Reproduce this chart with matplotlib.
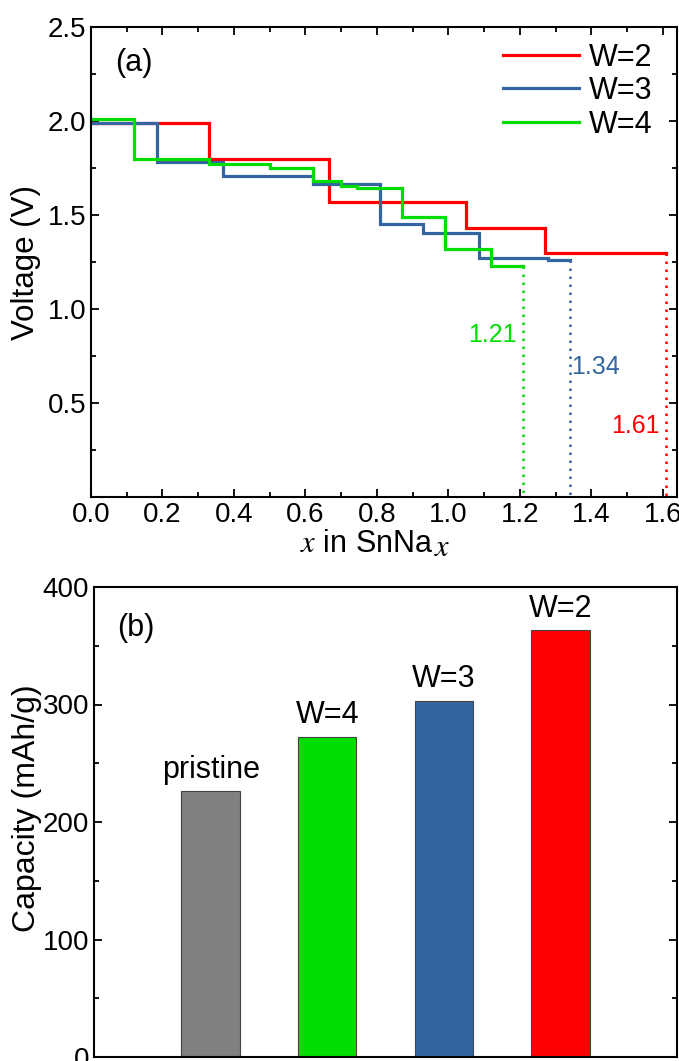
import matplotlib
matplotlib.use("Agg")
import matplotlib.pyplot as plt
from matplotlib.ticker import MultipleLocator, NullLocator
from matplotlib.lines import Line2D

plt.rcParams['font.family'] = ['Liberation Sans', 'DejaVu Sans']
plt.rcParams['mathtext.fontset'] = 'stix'

# ---- Panel (a) data: step voltage profiles ----
w2_x = [0.0, 0.33, 0.665, 1.05, 1.27, 1.61]
w2_v = [1.99, 1.80, 1.57, 1.43, 1.30]
w3_x = [0.0, 0.185, 0.37, 0.62, 0.81, 0.93, 1.085, 1.28, 1.34]
w3_v = [1.99, 1.78, 1.71, 1.665, 1.45, 1.405, 1.27, 1.26]
w4_x = [0.0, 0.12, 0.33, 0.50, 0.62, 0.70, 0.745, 0.87, 0.99, 1.12, 1.21]
w4_v = [2.01, 1.80, 1.77, 1.75, 1.68, 1.655, 1.645, 1.49, 1.32, 1.23]
series_labels = ["W=2", "W=3", "W=4"]
end_labels = ["1.61", "1.34", "1.21"]

# ---- Panel (b) data: capacities ----
bar_names = ["pristine", "W=4", "W=3", "W=2"]
capacity = [226, 272, 303, 363]

RED = "#FF0000"
BLUE = "#3366A0"
GREEN = "#00DD00"
GRAY = "#808080"

fig = plt.figure(figsize=(6.79, 10.61), dpi=100)
W, H = 679, 1061
ax1 = fig.add_axes([91 / W, 1 - 497 / H, (677 - 91) / W, (497 - 27) / H])
ax2 = fig.add_axes([94 / W, 1 - 1057 / H, (677 - 94) / W, (1057 - 587) / H])

def step_xy(xe, v):
    xs, ys = [], []
    for i, val in enumerate(v):
        xs += [xe[i], xe[i + 1]]
        ys += [val, val]
    return xs, ys

series = [(w2_x, w2_v, RED), (w3_x, w3_v, BLUE), (w4_x, w4_v, GREEN)]
handles = []
for (xe, v, c), lab in zip(series, series_labels):
    xs, ys = step_xy(xe, v)
    ax1.plot(xs, ys, color=c, lw=2.3, solid_joinstyle='miter')
    ax1.plot([xe[-1], xe[-1]], [v[-1], 0], color=c, lw=1.8, ls=(0, (1, 2.2)))
    handles.append(Line2D([0], [0], color=c, lw=2.3, label=lab))

# end annotations
ax1.text(w4_x[-1] - 0.02, 0.86, end_labels[2], color=GREEN, fontsize=18, ha='right', va='center')
ax1.text(w3_x[-1] + 0.005, 0.69, end_labels[1], color=BLUE, fontsize=18, ha='left', va='center')
ax1.text(w2_x[-1] - 0.02, 0.38, end_labels[0], color=RED, fontsize=18, ha='right', va='center')

ax1.set_xlim(0, 1.64)
ax1.set_ylim(0, 2.5)
ax1.xaxis.set_major_locator(MultipleLocator(0.2))
ax1.xaxis.set_minor_locator(MultipleLocator(0.1))
ax1.set_yticks([0.5, 1.0, 1.5, 2.0, 2.5])
ax1.yaxis.set_minor_locator(MultipleLocator(0.25))
ax1.set_xticklabels([f"{t:.1f}" for t in ax1.get_xticks()])
ax1.set_yticklabels(["0.5", "1.0", "1.5", "2.0", "2.5"])
ax1.tick_params(which='both', direction='in', top=True, right=True, labelsize=20, width=1.3)
ax1.tick_params(which='major', length=6)
ax1.tick_params(which='minor', length=3.5)
ax1.set_xlabel(r"$x$ in SnNa", fontsize=22)
ax1.xaxis.set_label_coords(0.47, -0.068, transform=ax1.transAxes)
ax1.xaxis.label.set_va('top')
ax1.set_ylabel("Voltage (V)", fontsize=22.5, labelpad=5)
ax1.text(0.041, 0.923, "(a)", transform=ax1.transAxes, fontsize=22, ha='left', va='center')
ax1.legend(handles=handles, loc='upper left', bbox_to_anchor=(0.703, 0.967), frameon=False,
           fontsize=22, handlelength=2.5, handletextpad=0.3, labelspacing=0.12,
           borderpad=0, borderaxespad=0)
for s in ax1.spines.values():
    s.set_linewidth(1.5)

# ---- Panel (b) ----
pos = list(range(1, len(bar_names) + 1))
colors = [GRAY, GREEN, BLUE, RED]
bars = ax2.bar(pos, capacity, width=0.5, color=colors, edgecolor='#444444', linewidth=0.8)
for p, c, name in zip(pos, capacity, bar_names):
    ax2.annotate(name, (p, c), xytext=(0, 5), textcoords='offset points',
                 ha='center', va='bottom', fontsize=22)
ax2.set_xlim(0, 5)
ax2.set_ylim(0, 400)
ax2.yaxis.set_major_locator(MultipleLocator(100))
ax2.yaxis.set_minor_locator(MultipleLocator(50))
ax2.xaxis.set_major_locator(NullLocator())
ax2.tick_params(which='both', direction='in', right=True, labelsize=20, width=1.3)
ax2.tick_params(which='major', length=6)
ax2.tick_params(which='minor', length=3.5)
ax2.set_ylabel("Capacity (mAh/g)", fontsize=23)
ax2.yaxis.set_label_coords(-0.09, 0.53)
ax2.text(0.039, 0.913, "(b)", transform=ax2.transAxes, fontsize=22, ha='left', va='center')
for s in ax2.spines.values():
    s.set_linewidth(1.5)

# large italic subscript x after "SnNa"
fig.canvas.draw()
bb = ax1.xaxis.label.get_window_extent()
fig.text((bb.x1 + 1) / W, (bb.y0 - 4) / H, r"$x$", fontsize=22, ha='left', va='bottom')

fig.savefig("out.png", dpi=100)
